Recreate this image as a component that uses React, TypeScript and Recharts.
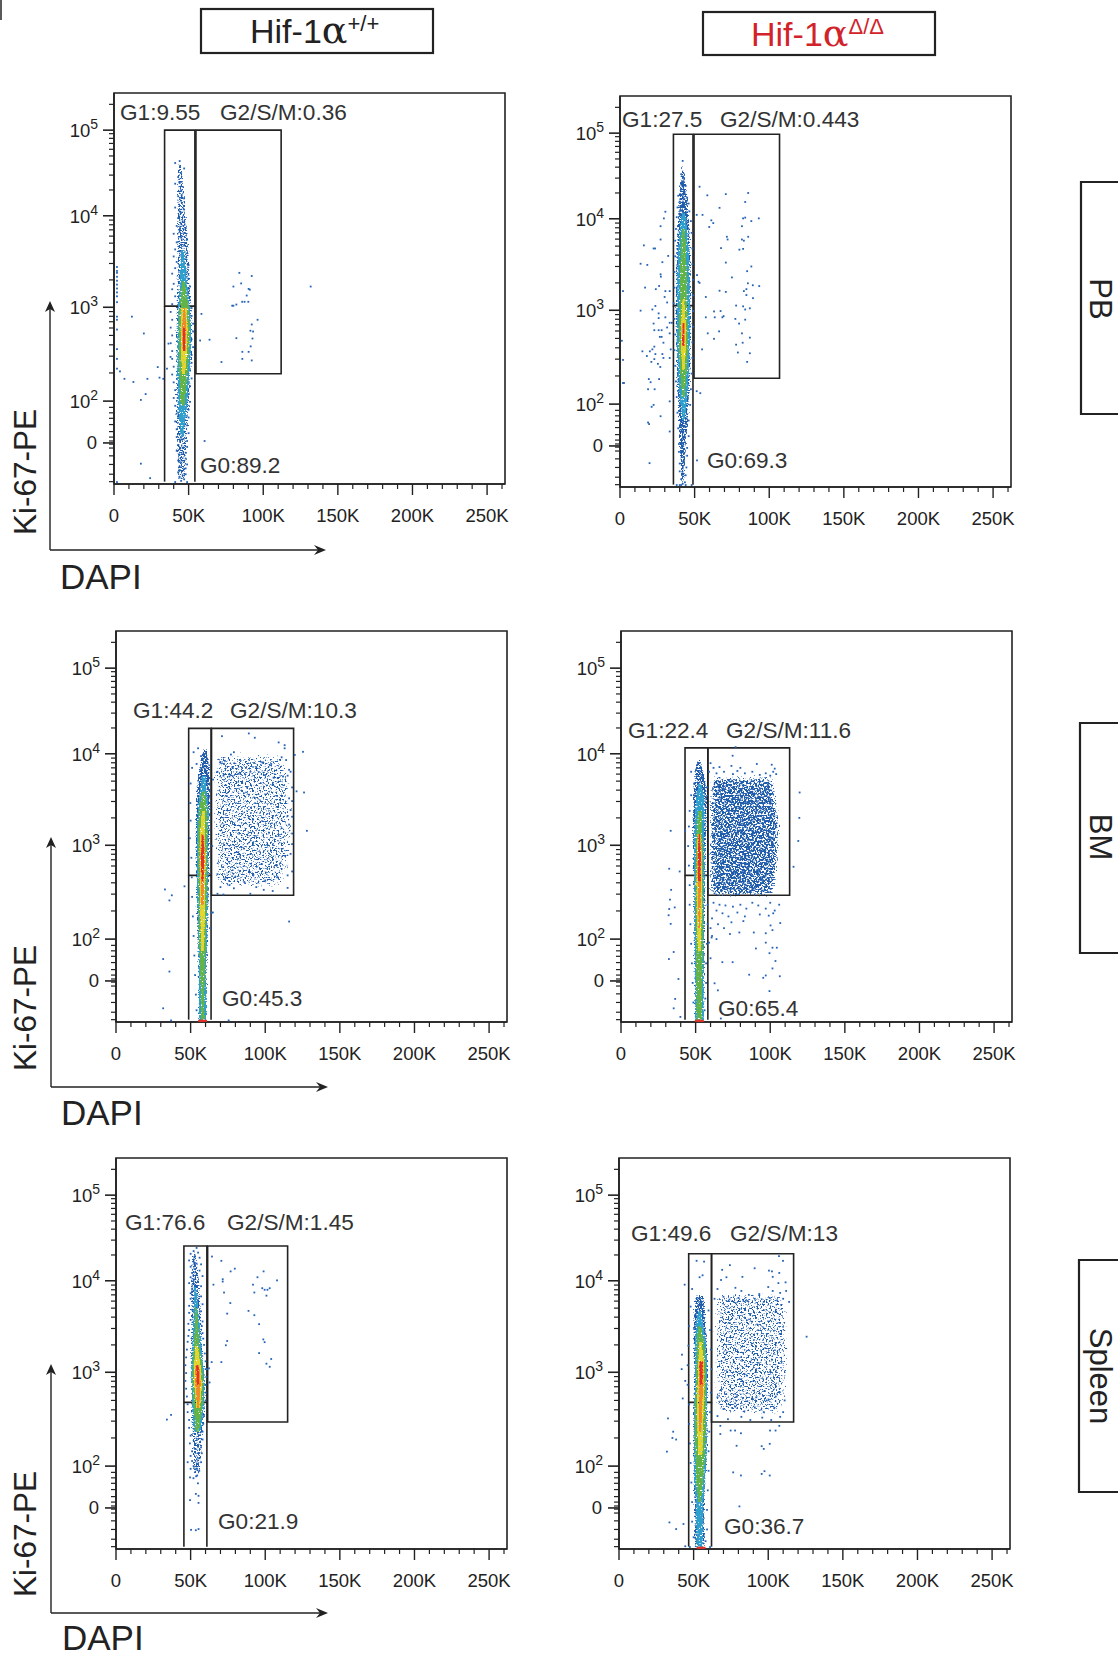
import { ScatterChart, Scatter, XAxis, YAxis, ReferenceArea, ReferenceLine } from "recharts";

type Pair = [number, number];

// axis positions: DAPI in thousands, Ki-67 on a 0-1000 display channel scale
const X_MAJOR = [0, 50, 100, 150, 200, 250];
const X_MINOR = [10, 20, 30, 40, 60, 70, 80, 90, 110, 120, 130, 140, 160, 170, 180, 190, 210, 220, 230, 240, 260];
const Y_DECADES = [905, 686, 452, 212];
const Y_DECADE_EXP = ["5", "4", "3", "2"];
const Y_ZERO = 105;
const Y_MINOR = [971, 896, 884, 871, 856, 839, 818, 790, 752, 675, 663, 650, 634, 616, 593, 564, 522, 441, 429, 415, 399, 380, 356, 327, 284,
  196, 182, 168, 152, 134, 120, 110, 102, 92, 72, 50, 25, 6];

const COLORS = { blue: "#1f5cab", mid: "#2f9fcb", green: "#63b347", yellow: "#e6d52f", orange: "#f0892a", red: "#e2302a" };
const BAND_NAMES = ["blue", "mid", "green", "yellow", "orange", "red"] as const;

// density column of each plot, read as half widths at Ki-67 levels
const levels1 = [10, 60, 120, 200, 280, 340, 400, 450, 520, 600, 660, 720, 780, 825];
const center1 = [45, 45.5, 45.5, 46, 46.5, 47, 47, 47, 46.5, 46, 45.5, 45, 44.5, 44];
const blue1 = [3, 3.6, 4.2, 5, 5.6, 6, 6, 5.6, 5, 4.4, 3.8, 3.2, 2.6, 1.2];
const mid1 = [0, 0, 1, 3, 4.2, 4.6, 4.6, 4, 2.4, 1.2, 0, 0, 0, 0];
const green1 = [0, 0, 0, 1.4, 2.8, 3.6, 3.9, 3.2, 1, 0, 0, 0, 0, 0];
const yellow1 = [0, 0, 0, 0, 1.2, 2.2, 2.5, 1.8, 0, 0, 0, 0, 0, 0];
const orange1 = [0, 0, 0, 0, 0, 1.2, 1.5, 0.8, 0, 0, 0, 0, 0, 0];
const red1 = [0, 0, 0, 0, 0, 0.7, 0.9, 0, 0, 0, 0, 0, 0, 0];

const levels2 = [8, 70, 130, 170, 230, 300, 360, 420, 480, 540, 600, 660, 700, 740, 780, 830];
const center2 = [42, 42, 42, 42.5, 42.5, 42.5, 42.5, 42.5, 42.5, 42.5, 42.5, 42.5, 42.5, 42.3, 42, 42];
const blue2 = [1.4, 2.2, 3, 3.6, 4.4, 5.2, 5.4, 5.6, 5.6, 5.4, 5.2, 4.6, 4, 3.2, 2.2, 0.6];
const mid2 = [0, 0, 0, 1, 2.6, 3.8, 4.3, 4.4, 4.3, 4.2, 3.8, 2.6, 1.2, 0, 0, 0];
const green2 = [0, 0, 0, 0, 1, 2.4, 3.2, 3, 2.6, 2.4, 2, 1.2, 0, 0, 0, 0];
const yellow2 = [0, 0, 0, 0, 0, 1, 1.8, 1.7, 0.8, 0, 0, 0, 0, 0, 0, 0];
const orange2 = [0, 0, 0, 0, 0, 0, 1.2, 1, 0, 0, 0, 0, 0, 0, 0, 0];
const red2 = [0, 0, 0, 0, 0, 0, 0.7, 0.6, 0, 0, 0, 0, 0, 0, 0, 0];

const levels3 = [4, 60, 120, 180, 240, 300, 360, 420, 480, 540, 590, 630, 670, 700];
const center3 = [58, 58, 58, 58, 58, 58, 58, 58, 58, 58.5, 58.5, 59, 59.5, 59.5];
const blue3 = [3.2, 3.4, 3.4, 3.8, 4.2, 4.6, 4.8, 5, 5.2, 5.2, 5, 4.4, 3.2, 1.5];
const mid3 = [2.6, 2.8, 2.6, 2.8, 3.2, 3.6, 3.8, 3.8, 4, 3.8, 2.4, 1.2, 0, 0];
const green3 = [1.4, 1.4, 1.6, 2.2, 2.6, 2.8, 2.9, 3, 3.4, 2.8, 1.2, 0, 0, 0];
const yellow3 = [0, 0, 0, 1, 1.5, 1.8, 2, 2.2, 1.9, 1.1, 0, 0, 0, 0];
const orange3 = [0, 0, 0, 0, 0, 0.9, 1.2, 1.5, 1.2, 0, 0, 0, 0, 0];
const red3 = [0, 0, 0, 0, 0, 0, 0.7, 1, 0.7, 0, 0, 0, 0, 0];

const levels4 = [4, 60, 120, 180, 240, 300, 360, 420, 480, 540, 580, 610, 640, 670];
const center4 = [52.5, 52.5, 52.5, 52.5, 52.5, 52.5, 52.5, 52.5, 52.5, 52.8, 53, 53, 52.5, 52];
const blue4 = [3.6, 3.6, 3.8, 4, 4.2, 4.4, 4.6, 4.8, 5, 5.2, 5.2, 4.4, 3.4, 1.5];
const mid4 = [3, 3, 3, 3.2, 3.4, 3.4, 3.6, 3.6, 3.5, 3.4, 2.4, 1, 0, 0];
const green4 = [2, 2, 2.2, 2.4, 2.6, 2.7, 2.7, 2.6, 2.1, 1.4, 0, 0, 0, 0];
const yellow4 = [0, 0, 0, 1.1, 1.6, 1.9, 2, 1.9, 1.3, 0, 0, 0, 0, 0];
const orange4 = [0, 0, 0, 0, 0.7, 0.9, 1.3, 1.5, 0.8, 0, 0, 0, 0, 0];
const red4 = [0, 0, 0, 0, 0, 0, 0.8, 1, 0.5, 0, 0, 0, 0, 0];

const levels5 = [190, 240, 300, 360, 420, 470, 520, 570, 620, 670, 720, 760];
const center5 = [54, 54, 54.5, 55, 55, 54.5, 54, 54, 53.5, 53, 53, 52];
const blue5 = [2.5, 3.6, 4.4, 5.2, 5.5, 5, 4.6, 4.2, 4, 3.6, 3, 1.5];
const mid5 = [0, 0, 2.4, 4, 4.6, 4.2, 3, 2.4, 1.6, 0.8, 0, 0];
const green5 = [0, 0, 1.2, 3, 3.9, 3.4, 2, 1.3, 0.7, 0, 0, 0];
const yellow5 = [0, 0, 0, 1.4, 2.8, 2.3, 1, 0, 0, 0, 0, 0];
const orange5 = [0, 0, 0, 0.7, 1.9, 1.5, 0, 0, 0, 0, 0, 0];
const red5 = [0, 0, 0, 0, 1, 0.7, 0, 0, 0, 0, 0, 0];

const levels6 = [4, 60, 120, 180, 240, 300, 360, 420, 480, 530, 570, 610, 650];
const center6 = [54, 54, 54, 54, 54.5, 54.5, 54.5, 55, 55, 54.5, 54, 54, 54];
const blue6 = [4, 3.8, 4, 4.6, 5, 5.2, 5.2, 5.2, 5.2, 5, 4.6, 4.2, 3];
const mid6 = [2.2, 2.2, 2.6, 3.8, 4.4, 4.4, 4.4, 4.2, 4, 3.8, 2.6, 1.2, 0];
const green6 = [0, 0, 1, 2.6, 3.4, 3.7, 3.7, 3.6, 3.2, 2.6, 1.2, 0, 0];
const yellow6 = [0, 0, 0, 0, 1.5, 2.1, 2.4, 2.5, 2, 1, 0, 0, 0];
const orange6 = [0, 0, 0, 0, 0, 0.8, 1.2, 1.7, 1.7, 0, 0, 0, 0];
const red6 = [0, 0, 0, 0, 0, 0, 0, 1, 1.1, 0, 0, 0, 0];

// single events
const dots1: Pair[] = [[84, 540], [92.3, 532], [85.2, 513], [80, 505], [90.2, 499], [88.9, 482], [91, 497], [85.9, 466], [87.5, 466], [90, 466], [79.2, 456], [80, 456], [82, 459], [96.2, 420], [92.3, 408], [91.4, 392], [93.2, 390], [82, 373], [92.8, 372], [91.6, 352], [86, 338], [90.2, 338], [86, 320], [92.3, 316], [72, 312], [57.7, 367], [64, 369], [58.6, 435], [131.8, 505], [60.7, 110],
  [2, 555], [2, 545], [2, 540], [2, 530], [2, 520], [2, 510], [2, 500], [2, 490], [2, 480], [2, 465], [2, 428], [2, 420], [2, 395], [2, 345], [2, 320], [2, 295], [12, 428], [20, 385], [7, 269], [4, 288], [13, 261], [22.4, 269], [21.2, 230], [18, 215], [18, 52], [24.2, 15], [2, 5], [29.3, 299], [30.5, 272], [33, 269], [35.5, 295], [36.5, 359], [37.9, 325],
  [41, 821], [44, 826], [47, 807], [45, 795], [43, 785], [44, 770], [41, 768], [45, 751], [43, 736], [47, 731], [41, 707], [44, 697], [47, 702], [43, 680], [46, 672], [42, 660], [48, 655], [44, 648], [40, 640], [45, 630], [49, 625], [42, 618], [47, 610], [41, 600], [44, 595], [49, 590], [40, 582], [46, 575], [42, 568], [50, 560], [41, 552], [48, 545], [39, 538], [44, 530], [50, 524], [40, 512], [51, 505], [39, 498], [49, 490], [41, 480], [51, 470], [39, 460], [52, 450], [38, 440], [52, 430], [39, 420], [53, 410], [38, 400], [53, 390], [39, 380], [52, 370], [38, 360], [53, 350], [39, 340], [52, 330], [39, 320], [52, 310], [40, 300], [51, 290], [39, 280], [52, 270], [40, 260], [51, 250], [41, 240], [50, 230], [40, 220], [51, 210], [41, 200], [50, 190], [42, 180], [50, 170], [41, 160], [49, 150], [42, 140], [50, 130], [42, 120], [49, 110], [43, 100], [49, 95], [42, 85], [48, 80], [44, 75], [48, 65], [43, 60], [49, 50], [44, 45], [47, 38], [43, 30], [48, 25], [44, 18], [47, 12], [45, 8], [41, 5], [49, 5], [46, 92], [44, 128], [47, 148], [43, 172], [48, 40], [45, 55], [46, 22], [44, 35]];

const dots2: Pair[] = [[30.4, 704], [27.2, 667], [16, 618], [22.5, 610], [23.5, 610], [27.2, 633], [32.3, 591], [29.4, 687], [28.4, 575], [13.8, 571], [18.3, 568], [27.2, 544], [27.4, 538], [16.8, 510], [26.2, 514], [24, 506], [30.4, 501], [33.3, 501], [29.9, 486], [31.6, 472], [13.8, 451], [23.7, 463], [21.7, 454], [25.9, 444], [25.9, 432], [30.4, 434], [22.5, 418], [25.9, 401], [23, 401], [33.3, 420], [34.8, 420], [27.9, 401], [31.6, 408], [27.9, 384], [26.7, 384], [33.3, 393], [29.1, 369], [23, 359], [21.7, 352], [20, 347], [15, 347], [23.7, 340], [28.4, 340], [34, 352], [18, 335], [29.1, 330], [33.3, 330], [21, 320], [25.4, 315], [27, 307], [23, 327], [19.3, 276], [20.5, 268], [18.8, 250], [26.2, 276], [23.2, 250], [33.3, 219], [22.5, 210], [21.2, 205], [27.2, 181], [19.5, 161], [18.8, 165], [33.3, 142], [19.8, 61], [2, 266], [1.2, 374], [2, 325], [2, 501], [2.7, 266],
  [53.3, 768], [58.5, 746], [70.9, 749], [85.9, 752], [83.9, 729], [66.7, 714], [55.3, 696], [51.4, 696], [61.2, 682], [62.5, 675], [59.8, 665], [71.6, 640], [72.1, 633], [67.7, 611], [82.5, 687], [83.9, 689], [81.7, 667], [81.7, 633], [83, 630], [85.9, 640], [93, 687], [88, 680], [80, 607], [82.5, 609], [70.9, 574], [88, 564], [85.2, 552], [75, 536], [85.7, 521], [89, 516], [93.3, 514], [52.6, 525], [53.3, 522], [51.6, 542], [57.5, 486], [66.7, 502], [70.9, 499], [83, 501], [84.7, 491], [89.1, 483], [84.7, 506], [82.5, 462], [77.8, 464], [83.9, 454], [87, 457], [63, 449], [67.4, 450], [69.4, 437], [68.6, 434], [57.5, 434], [63.5, 434], [77.3, 430], [79.8, 418], [83.9, 428], [81.7, 393], [87, 382], [58.8, 393], [66.4, 398], [63, 379], [55, 352], [82.2, 369], [77.8, 364], [79, 344], [87, 342], [85.2, 320], [51.4, 245], [53.8, 240], [51.6, 68],
  [42, 834], [41, 800], [43, 790], [41, 775], [44, 770], [43, 755], [39, 745], [45, 740], [40, 730], [46, 725], [38.5, 715], [46.5, 705], [38, 690], [47.5, 680], [37.5, 660], [48, 650], [37, 630], [48.5, 610], [37, 590], [48.5, 570], [36.5, 550], [49, 530], [36.5, 510], [49, 490], [36, 470], [49, 450], [36.5, 430], [49, 410], [37, 390], [48.5, 370], [36.5, 350], [48.5, 330], [37, 310], [48, 290], [37.5, 270], [47.5, 250], [38, 230], [47, 210], [38.5, 190], [46, 170], [39, 150], [46, 130], [39.5, 110], [45, 100], [39.5, 90], [45, 80], [40, 60], [44.5, 50], [40, 40], [44, 30], [41, 20], [43.5, 12], [42, 8], [41, 5], [44, 5], [38, 5], [40, 5], [48, 5]];

const dots3: Pair[] = [[32.8, 339], [37.4, 324], [35.8, 311], [45.9, 347], [31.6, 161], [35.8, 129], [31.6, 35], [36.9, 4], [75.5, 4], [116, 257], [64.9, 280], [125.3, 691], [126, 587], [121, 590], [127.9, 489], [119.8, 683],
  [71, 731], [89, 738], [93, 727], [109, 715], [113, 708], [113, 700], [79, 690], [77, 684], [111, 677], [114, 670], [70, 665], [73, 668], [83, 670], [98, 664], [104, 660], [94, 652], [78, 652], [87, 650], [116, 645], [117, 640], [68, 640], [72, 630], [76, 628], [82, 635], [90, 640], [100, 632], [106, 625], [112, 628], [115, 630],
  [118, 600], [116, 572], [118, 565], [117, 542], [118, 525], [116, 505], [118, 482], [118, 455], [117, 430], [118, 385],
  [68, 378], [73, 365], [80, 372], [86, 358], [92, 375], [100, 362], [108, 370], [115, 375], [70, 345], [76, 350], [79, 342], [94, 345], [99, 338], [105, 335], [115, 343], [68, 328], [72, 326], [90, 328],
  [52, 690], [55, 700], [57, 680], [54, 660], [51, 650], [50, 610], [49.8, 560], [50, 515], [49.5, 470], [50.5, 420], [50.8, 370], [51, 320], [51.5, 270], [52, 220], [52.5, 170], [53, 120], [53.5, 70], [54, 30], [65, 620], [64.5, 450], [64, 280], [63, 240]];

const dots4: Pair[] = [[33.3, 489], [32.3, 392], [39.3, 385], [43, 489], [33.6, 338], [32.8, 313], [32.3, 289], [36, 293], [31.9, 273], [33.3, 251], [35.3, 179], [32.1, 161], [38.5, 110], [36.3, 59], [35.3, 35], [39.8, 13],
  [119.7, 587], [119.5, 522], [118.8, 463], [115.6, 397], [106.7, 253], [100.2, 247], [101.5, 235], [97, 227], [89, 229], [79.3, 229], [101.5, 190], [104.4, 190], [99.5, 176], [90.4, 188], [97, 203], [103.5, 156], [101.5, 137], [97, 119], [95.3, 113], [106.4, 117], [85.9, 121], [67.9, 153], [74.8, 153], [99.5, 79], [62.7, 99], [64.9, 81], [66.9, 9], [60, 163], [60.7, 216], [59, 203], [76.8, 703], [74.8, 681],
  [62, 305], [66, 300], [70, 298], [75, 295], [80, 300], [84, 290], [88, 305], [92, 298], [97, 290], [100, 305], [103, 285], [106, 300], [64, 285], [68, 278], [72, 270], [78, 280], [83, 270], [93, 275], [99, 272], [102, 278], [61, 265], [65, 250], [69, 240], [74, 255], [82, 258], [60, 240], [61, 220], [64, 212], [73, 225],
  [60, 662], [62, 650], [66, 652], [74, 655], [80, 650], [91, 660], [101, 658], [103, 648], [102, 640], [59, 640], [64, 636], [69, 640], [75, 634], [78, 642], [83, 636], [88, 640], [93, 632], [97, 636], [100, 630], [104, 634],
  [47, 640], [49, 610], [47, 580], [46, 540], [45.5, 500], [45, 450], [45.5, 400], [46, 350], [46, 300], [46.5, 250], [47, 200], [47.5, 150], [48, 100], [48.5, 50], [57.5, 600], [58, 300], [58, 250], [57.5, 200], [57, 150], [57, 100], [56.5, 60], [56, 30]];

const dots5: Pair[] = [[64.3, 748], [70.6, 737], [79.6, 717], [76.8, 710], [98.9, 710], [94.8, 695], [107.9, 687], [91.8, 676], [71.5, 690], [71.5, 684], [65.3, 676], [98, 667], [99.6, 663], [101.5, 663], [103, 667], [92.7, 656], [72.4, 656], [100.8, 648], [76.6, 629], [88.8, 609], [74.5, 602], [92.7, 598], [95.9, 575], [98.7, 536], [99.6, 529], [74.5, 532], [73.6, 521], [95.9, 501], [64.1, 478], [70.6, 478], [104, 486], [100.8, 474], [103, 466], [62.3, 462], [61, 460], [62.7, 426], [36.9, 343], [34.1, 331], [49.6, 183], [53.7, 186], [54.4, 188], [49.6, 125], [53.5, 141], [55.3, 136], [55.3, 118], [50.3, 49], [53.5, 48], [55.3, 51], [51.9, 181], [54.9, 168], [55.8, 200],
  [52, 762], [54, 770], [55, 758], [50, 755], [53, 748], [56, 745], [49, 738], [52, 735], [54, 730], [57, 728], [50, 722], [53, 716], [56, 712], [51, 706], [54, 702], [58, 698], [50, 695], [52, 688], [55, 684], [49, 680], [53, 675], [57, 672], [51, 666], [54, 660], [50, 654], [53, 648], [57, 646], [50, 640], [55, 636], [52, 630], [58, 626], [49, 622], [54, 618], [51, 612], [57, 608], [49, 604], [53, 598], [56, 592], [50, 586], [58, 582], [48.5, 576], [57.5, 570], [49, 560], [58, 552], [48.5, 545], [58.5, 538], [48, 530], [59, 522], [47.5, 510], [59.5, 500], [47, 490], [60, 480], [46.5, 470], [60, 460], [47, 450], [60.5, 440], [46.5, 430], [60, 420], [47, 410], [60, 400], [47.5, 390], [60, 380], [48, 370], [59, 360], [48, 350], [59, 340], [49, 330], [58.5, 320], [49, 310], [58, 300], [50, 290], [58, 280], [49.5, 270], [57, 260], [51, 250], [57.5, 245], [50, 238], [56, 232], [51, 225], [55, 218], [52, 212], [54, 206], [50, 205], [57, 222], [48, 222]];

const dots6: Pair[] = [[125.7, 543], [32.8, 334], [36.3, 300], [35.8, 284], [38.3, 280], [32.1, 249], [42.2, 497], [42, 460], [44, 676], [42.7, 385], [44.4, 430], [33.8, 68], [38.3, 51], [43.2, 64], [44.4, 7], [76.5, 196], [81.7, 188], [95.6, 192], [97.5, 199], [101, 188], [95.6, 263], [97, 256], [101, 269], [78.8, 264], [80.7, 109], [74.8, 303], [77.8, 303], [81.7, 296], [67.9, 315], [67.9, 294], [101.2, 303], [104.9, 303], [107.4, 315],
  [107.2, 749], [109.9, 737], [74.3, 726], [69.1, 714], [90.9, 718], [82.7, 696], [72, 695], [68.4, 688], [100.5, 712], [102.5, 710], [107.4, 706], [103, 696], [111.6, 682], [106.8, 680], [100, 670], [52, 737], [57, 735], [49, 665], [54, 695], [56, 700],
  [66, 665], [78, 668], [82, 660], [87, 650], [94, 652], [103, 660], [108, 655], [112, 660], [64, 640], [70, 645], [74, 638], [80, 642], [85, 635], [91, 640], [97, 632], [101, 642], [106, 636], [110, 640], [114, 632],
  [66, 388], [72, 380], [79, 390], [86, 378], [92, 388], [99, 380], [105, 390], [111, 380], [70, 358], [78, 364], [84, 352], [91, 362], [97, 350], [104, 360], [110, 350], [66, 340], [73, 332], [82, 338], [88, 330], [96, 336], [102, 330], [108, 338],
  [48, 620], [60, 610], [47, 570], [61, 560], [46.5, 520], [61.5, 510], [46, 470], [62, 460], [46, 420], [61.5, 400], [47, 370], [61, 350], [47, 320], [60.5, 300], [47.5, 270], [60, 250], [48, 220], [60, 200], [48.5, 170], [59.5, 150], [49, 120], [59, 100], [49, 70], [59, 50], [50, 30], [58, 20], [47.5, 5], [61, 5]];

// hot pile-up against the bottom of the axis
const hot3: Pair[] = [[56, 3], [57, 3], [58, 3], [59, 3], [60, 3]];
const hot4: Pair[] = [[50.5, 3], [51.5, 3], [52.5, 3], [53.5, 3], [54.5, 3]];
const hot6: Pair[] = [[53, 3], [54, 3], [55, 3], [56, 3], [57, 3]];

// ki-67 levels with left and right edge of the G2/S/M cloud
const cloudLevels3 = [340, 400, 480, 560, 640, 690];
const cloudLeft3 = [66, 64.5, 64, 64, 64.5, 66];
const cloudRight3 = [112, 118, 119, 119, 117, 112];
const cloudLevels4 = [320, 370, 420, 500, 580, 630];
const cloudLeft4 = [59, 58.5, 58.5, 58.5, 59, 60];
const cloudRight4 = [102, 105, 106, 107, 105, 102];
const cloudLevels6 = [340, 400, 500, 600, 660];
const cloudLeft6 = [63, 62.5, 62.5, 63, 64];
const cloudRight6 = [110, 114, 115, 114, 110];

const panels = [
  { left: 114, top: 93, levels: levels1, center: center1, blue: blue1, mid: mid1, green: green1, yellow: yellow1, orange: orange1, red: red1, dots: dots1, hot: [] as Pair[], col: [33.9, 54.2], gTop: 905, split: 455, g2: [54.9, 112], g2Bottom: 282, grain: "sparse" },
  { left: 620, top: 96, levels: levels2, center: center2, blue: blue2, mid: mid2, green: green2, yellow: yellow2, orange: orange2, red: red2, dots: dots2, hot: [] as Pair[], col: [35.8, 48.9], gTop: 902, split: 464, g2: [49.6, 106.9], g2Bottom: 278, grain: "dense" },
  { left: 116, top: 631, levels: levels3, center: center3, blue: blue3, mid: mid3, green: green3, yellow: yellow3, orange: orange3, red: red3, dots: dots3, hot: hot3, col: [48.7, 63.7], gTop: 751, split: 375, g2: [64, 119], g2Bottom: 324, grain: "dense", cloud: { l: cloudLevels3, a: cloudLeft3, b: cloudRight3, f: "light" } },
  { left: 621, top: 631, levels: levels4, center: center4, blue: blue4, mid: mid4, green: green4, yellow: yellow4, orange: orange4, red: red4, dots: dots4, hot: hot4, col: [42.9, 58.2], gTop: 701, split: 375, g2: [58.2, 113], g2Bottom: 324, grain: "dense", cloud: { l: cloudLevels4, a: cloudLeft4, b: cloudRight4, f: "heavy" } },
  { left: 116, top: 1158, levels: levels5, center: center5, blue: blue5, mid: mid5, green: green5, yellow: yellow5, orange: orange5, red: red5, dots: dots5, hot: [] as Pair[], col: [45.5, 60.9], gTop: 775, split: 375, g2: [61.4, 115], g2Bottom: 325, grain: "sparse" },
  { left: 619, top: 1158, levels: levels6, center: center6, blue: blue6, mid: mid6, green: green6, yellow: yellow6, orange: orange6, red: red6, dots: dots6, hot: hot6, col: [46.7, 62], gTop: 755, split: 375, g2: [62, 117], g2Bottom: 325, grain: "dense", cloud: { l: cloudLevels6, a: cloudLeft6, b: cloudRight6, f: "light" } },
];

const gateLabels = [
  { text: "G1:9.55", x: 120, y: 112 }, { text: "G2/S/M:0.36", x: 220, y: 112 }, { text: "G0:89.2", x: 200, y: 465 },
  { text: "G1:27.5", x: 622, y: 119 }, { text: "G2/S/M:0.443", x: 720, y: 119 }, { text: "G0:69.3", x: 707, y: 460 },
  { text: "G1:44.2", x: 133, y: 710 }, { text: "G2/S/M:10.3", x: 230, y: 710 }, { text: "G0:45.3", x: 222, y: 998 },
  { text: "G1:22.4", x: 628, y: 730 }, { text: "G2/S/M:11.6", x: 726, y: 730 }, { text: "G0:65.4", x: 718, y: 1008 },
  { text: "G1:76.6", x: 125, y: 1222 }, { text: "G2/S/M:1.45", x: 227, y: 1222 }, { text: "G0:21.9", x: 218, y: 1521 },
  { text: "G1:49.6", x: 631, y: 1233 }, { text: "G2/S/M:13", x: 730, y: 1233 }, { text: "G0:36.7", x: 724, y: 1526 },
];

const FRAME = 391;
const FONT = "'Liberation Sans', Arial, sans-serif";
const INK = "#222";

const toPoints = (pairs: Pair[]) => pairs.map(([x, y]) => ({ x, y }));

// outline of a density level, up the left edge and back down the right one
function band(levels: number[], center: number[], half: number[]) {
  const idx = levels.map((_, i) => i).filter((i) => half[i] > 0);
  const left = idx.map((i) => ({ x: center[i] - half[i], y: levels[i] }));
  const right = idx.map((i) => ({ x: center[i] + half[i], y: levels[i] })).reverse();
  return [...left, ...right];
}

function edges(levels: number[], a: number[], b: number[]) {
  const left = levels.map((y, i) => ({ x: a[i], y }));
  const right = levels.map((y, i) => ({ x: b[i], y })).reverse();
  return [...left, ...right];
}

// speckled look of a flow cytometry density plot, as a filter on the filled bands
function Grain({ id, color, cut, blur, freq = 0.62 }: { id: string; color: string; cut: number; blur: number; freq?: number }) {
  return (
    <filter id={id} x="-60%" y="-10%" width="220%" height="120%" colorInterpolationFilters="sRGB">
      <feTurbulence type="fractalNoise" baseFrequency={freq} numOctaves={2} seed={7} result="n" />
      <feColorMatrix in="n" type="matrix" values="0 0 0 0 0  0 0 0 0 0  0 0 0 0 0  1 0 0 0 0" result="na" />
      <feGaussianBlur in="SourceAlpha" stdDeviation={blur} result="ba" />
      <feComposite in="na" in2="ba" operator="arithmetic" k1={0} k2={0.6} k3={0.4} k4={0} result="sum" />
      <feColorMatrix in="sum" type="matrix" values={`0 0 0 0 0  0 0 0 0 0  0 0 0 0 0  0 0 0 14 ${-14 * cut}`} result="mask" />
      <feFlood floodColor={color} />
      <feComposite in2="mask" operator="in" />
    </filter>
  );
}

const noDot = () => <g />;
const blueDot = (p: any) => <rect x={p.cx - 0.9} y={p.cy - 0.9} width={1.8} height={1.8} fill="#2563b6" />;
const hotDot = (p: any) => <rect x={p.cx - 1.5} y={p.cy - 1} width={3} height={2} fill={COLORS.red} />;

function XTick({ x, y, payload }: any) {
  const major = X_MAJOR.includes(payload.value);
  return (
    <g>
      <line x1={x} x2={x} y1={y} y2={y + (major ? 11 : 5)} stroke={INK} strokeWidth={major ? 1.4 : 1.2} />
      {major && (
        <text x={x} y={y + 38} textAnchor="middle" fontSize={18.5} fontFamily={FONT} fill={INK}>
          {payload.value === 0 ? "0" : `${payload.value}K`}
        </text>
      )}
    </g>
  );
}

function YTick({ x, y, payload }: any) {
  const d = Y_DECADES.indexOf(payload.value);
  const major = d >= 0 || payload.value === Y_ZERO;
  return (
    <g>
      <line x1={x - (major ? 11 : 5)} x2={x} y1={y} y2={y} stroke={INK} strokeWidth={major ? 1.6 : 1.2} />
      {d >= 0 && (
        <text x={x - 16} y={y + 7} textAnchor="end" fontSize={18.5} fontFamily={FONT} fill={INK}>
          10<tspan fontSize={14} dy={-8}>{Y_DECADE_EXP[d]}</tspan>
        </text>
      )}
      {payload.value === Y_ZERO && (
        <text x={x - 17} y={y + 6} textAnchor="end" fontSize={18.5} fontFamily={FONT} fill={INK}>0</text>
      )}
    </g>
  );
}

function Panel({ p }: { p: (typeof panels)[number] }) {
  const [c0, c1] = p.col;
  const [g0, g1] = p.g2;
  const cloud = (p as any).cloud;
  const lineStyle = { stroke: INK, strokeWidth: 1.6 };
  return (
    <div style={{ position: "absolute", left: p.left - 60, top: p.top - 10 }}>
      <ScatterChart width={FRAME + 90} height={FRAME + 60} margin={{ top: 10, right: 30, left: 0, bottom: 0 }}>
        <XAxis type="number" dataKey="x" domain={[0, 262]} ticks={[...X_MAJOR, ...X_MINOR]} interval={0} tick={<XTick />} tickLine={false} tickSize={0} tickMargin={0} height={50} stroke={INK} strokeWidth={1.6} allowDataOverflow />
        <YAxis type="number" dataKey="y" domain={[0, 1000]} ticks={[...Y_DECADES, Y_ZERO, ...Y_MINOR]} interval={0} tick={<YTick />} tickLine={false} tickSize={0} tickMargin={0} width={60} stroke={INK} strokeWidth={1.6} allowDataOverflow />
        {cloud && (
          <Scatter data={edges(cloud.l, cloud.a, cloud.b)} line={{ fill: "#000", stroke: "none", filter: `url(#cloud-${cloud.f})` }} shape={noDot} isAnimationActive={false} />
        )}
        <Scatter data={toPoints(p.dots)} shape={blueDot} isAnimationActive={false} />
        {BAND_NAMES.map((name) => (
          <Scatter key={name} data={band(p.levels, p.center, (p as any)[name])} line={{ fill: "#000", stroke: "none", filter: name === "blue" ? `url(#col-${p.grain})` : `url(#core-${name})` }} shape={noDot} isAnimationActive={false} />
        ))}
        <Scatter data={toPoints(p.hot)} shape={hotDot} isAnimationActive={false} />
        <ReferenceArea x1={0} x2={262} y1={0} y2={1000} fill="none" stroke={INK} strokeWidth={1.6} />
        <ReferenceLine segment={[{ x: c0, y: 6 }, { x: c0, y: p.split }]} {...lineStyle} />
        <ReferenceLine segment={[{ x: c1, y: 6 }, { x: c1, y: p.split }]} {...lineStyle} />
        <ReferenceArea x1={c0} x2={c1} y1={p.split} y2={p.gTop} fill="none" stroke={INK} strokeWidth={1.6} />
        <ReferenceArea x1={g0} x2={g1} y1={p.g2Bottom} y2={p.gTop} fill="none" stroke={INK} strokeWidth={1.6} />
      </ScatterChart>
    </div>
  );
}

function Arrows({ x, top, bottom, right }: { x: number; top: number; bottom: number; right: number }) {
  return (
    <g>
      <line x1={x} x2={x} y1={top + 8} y2={bottom} stroke={INK} strokeWidth={1.4} />
      <line x1={x} x2={right - 8} y1={bottom} y2={bottom} stroke={INK} strokeWidth={1.4} />
      <path d={`M${x},${top} L${x + 5},${top + 11} L${x},${top + 8} L${x - 5},${top + 11} Z`} fill={INK} />
      <path d={`M${right},${bottom} L${right - 12},${bottom - 5} L${right - 8},${bottom} L${right - 12},${bottom + 5} Z`} fill={INK} />
    </g>
  );
}

function SideBox({ y0, y1, x, label, cy }: { y0: number; y1: number; x: number; label: string; cy: number }) {
  return (
    <g>
      <path d={`M1118,${y0} H${x} V${y1} H1118`} fill="none" stroke={INK} strokeWidth={2.2} />
      <text transform={`translate(1100,${cy}) rotate(90)`} textAnchor="middle" dominantBaseline="central" fontSize={31} fontFamily={FONT} fill={INK}>
        {label}
      </text>
    </g>
  );
}

export default function App() {
  return (
    <div style={{ position: "absolute", left: 0, top: 0, width: 1118, height: 1656, background: "#fff", overflow: "hidden" }}>
      <svg width={0} height={0} style={{ position: "absolute" }}>
        <defs>
          <Grain id="col-dense" color={COLORS.blue} cut={0.62} blur={0.8} />
          <Grain id="col-sparse" color={COLORS.blue} cut={0.67} blur={1} />
          <Grain id="cloud-heavy" color={COLORS.blue} cut={0.64} blur={3} freq={0.55} />
          <Grain id="cloud-light" color={COLORS.blue} cut={0.71} blur={4} freq={0.55} />
          <Grain id="core-mid" color={COLORS.mid} cut={0.56} blur={0.7} />
          <Grain id="core-green" color={COLORS.green} cut={0.56} blur={0.7} />
          <Grain id="core-yellow" color={COLORS.yellow} cut={0.56} blur={0.6} />
          <Grain id="core-orange" color={COLORS.orange} cut={0.55} blur={0.5} />
          <Grain id="core-red" color={COLORS.red} cut={0.53} blur={0.4} />
        </defs>
      </svg>
      {panels.map((p, i) => (
        <Panel key={i} p={p} />
      ))}
      <svg width={1118} height={1656} style={{ position: "absolute", left: 0, top: 0, pointerEvents: "none" }}>
        <line x1={1} x2={1} y1={0} y2={20} stroke={INK} strokeWidth={1.5} />
        <rect x={201} y={9} width={232} height={44} fill="none" stroke={INK} strokeWidth={2.2} />
        <rect x={703} y={12} width={232} height={43} fill="none" stroke={INK} strokeWidth={2.2} />
        <text x={250} y={43} fontSize={34} fontFamily={FONT} fill={INK}>
          Hif-1<tspan fontSize={38} fontFamily="'DejaVu Serif', serif">α</tspan><tspan fontSize={22} dy={-12}>+/+</tspan>
        </text>
        <text x={751} y={46} fontSize={34} fontFamily={FONT} fill="#d2232a">
          Hif-1<tspan fontSize={38} fontFamily="'DejaVu Serif', serif">α</tspan><tspan fontSize={22} dy={-12}>Δ/Δ</tspan>
        </text>
        <SideBox x={1081} y0={182} y1={414} label="PB" cy={299} />
        <SideBox x={1080} y0={723} y1={953} label="BM" cy={837} />
        <SideBox x={1079} y0={1260} y1={1492} label="Spleen" cy={1376} />
        <Arrows x={50} top={301} bottom={550} right={326} />
        <Arrows x={51} top={837} bottom={1087} right={328} />
        <Arrows x={51} top={1364} bottom={1613} right={328} />
        {[472, 1008, 1534].map((cy) => (
          <text key={cy} transform={`translate(25,${cy}) rotate(-90)`} textAnchor="middle" dominantBaseline="central" fontSize={31.5} fontFamily={FONT} fill={INK}>Ki-67-PE</text>
        ))}
        {[[60, 589], [61, 1125], [62, 1650]].map(([x, y]) => (
          <text key={y} x={x} y={y} fontSize={35} fontFamily={FONT} fill={INK}>DAPI</text>
        ))}
        {gateLabels.map((g) => (
          <text key={g.text} x={g.x} y={g.y} dominantBaseline="central" fontSize={22.6} fontFamily={FONT} fill="#333">{g.text}</text>
        ))}
      </svg>
    </div>
  );
}
